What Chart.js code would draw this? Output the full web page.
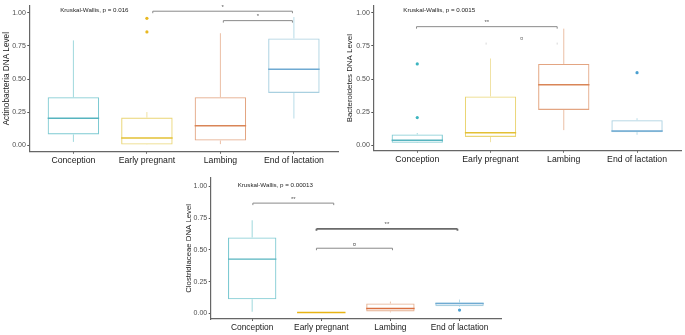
<!DOCTYPE html>
<html><head><meta charset="utf-8">
<script src="https://cdn.jsdelivr.net/npm/chart.js@4.4.1/dist/chart.umd.min.js"></script>
<style>
html,body{margin:0;padding:0;background:#fff;width:685px;height:335px;overflow:hidden;}
canvas{position:absolute;}
</style></head><body>
<canvas id="c1" width="342" height="170" style="left:0;top:0"></canvas>
<canvas id="c2" width="345" height="170" style="left:340px;top:0"></canvas>
<canvas id="c3" width="325" height="163" style="left:180px;top:172px"></canvas>
<script>
// ---------- data ----------
const categories = ['Conception', 'Early pregnant', 'Lambing', 'End of lactation'];
const yTickValues = [0, 0.25, 0.5, 0.75, 1.0];

// Actinobacteria
const actinoMin    = [0.027, 0.005, 0.010, 0.203];
const actinoQ1     = [0.083, 0.007, 0.037, 0.396];
const actinoMedian = [0.205, 0.056, 0.149, 0.575];
const actinoQ3     = [0.364, 0.210, 0.364, 0.807];
const actinoMax    = [0.792, 0.252, 0.846, 0.968];
const actinoOutliers = [[], [0.958, 0.856], [], []];
const actinoTest = 'Kruskal-Wallis, p = 0.016';
const actinoBracketStart = [2.08, 3.04];
const actinoBracketEnd   = [3.98, 3.98];
const actinoBracketY     = [1.012, 0.941];
const actinoBracketLabel = ['*', '*'];

// Bacteroidetes
const bactMin    = [0.018, 0.024, 0.115, 0.080];
const bactQ1     = [0.020, 0.064, 0.267, 0.100];
const bactMedian = [0.039, 0.095, 0.457, 0.108];
const bactQ3     = [0.083, 0.369, 0.614, 0.190];
const bactMax    = [0.093, 0.655, 0.880, 0.205];
const bactOutliers = [[0.614, 0.210], [], [], [0.548]];
const bactTest = 'Kruskal-Wallis, p = 0.0015';
const bactBracketStart = [0.99, 1.94];
const bactBracketEnd   = [2.91, 2.91];
const bactBracketY     = [0.895, 0.775];
const bactBracketLabel = ['**', '¤'];

// Clostridiaceae
const clostMin    = [0.013, 0.004, 0.008, 0.051];
const clostQ1     = [0.111, 0.005, 0.016, 0.057];
const clostMedian = [0.427, 0.007, 0.039, 0.078];
const clostQ3     = [0.598, 0.009, 0.078, 0.086];
const clostMax    = [0.733, 0.010, 0.093, 0.109];
const clostOutliers = [[], [], [], [0.026]];
const clostTest = 'Kruskal-Wallis, p = 0.00013';
const clostBracketStart = [1.01, 1.93, 1.93];
const clostBracketEnd   = [2.18, 3.97, 3.03];
const clostBracketY     = [0.868, 0.666, 0.513];
const clostBracketLabel = ['**', '**', '¤'];

// ---------- styles ----------
const boxColors     = ['#7ECAD2', '#EAD575', '#E3A582', '#A9D0E0'];
const whiskerColors = ['#9FD8DD', '#F0E2A4', '#EBBFA5', '#B9DCE8'];
const medianColors  = ['#56B4BF', '#E3C034', '#D98557', '#6FAAD2'];
const outlierColors = ['#3DB5C0', '#E8B820', '#D98557', '#4A9FD0'];
const FONT = "'Liberation Sans', Arial, sans-serif";

function makeChart(id, s, L) {
  const outPts = [], outCols = [];
  s.outliers.forEach((arr, i) => arr.forEach(v => { outPts.push({x: i + 1, y: v}); outCols.push(outlierColors[i]); }));

  const parts = {
    id: 'boxParts' + id,
    beforeDatasetsDraw(chart) {
      const {ctx, scales: {y}} = chart;
      const meta = chart.getDatasetMeta(0);
      ctx.save();
      ctx.lineWidth = 1;
      s.min.forEach((v, i) => {
        const px = meta.data[i].x;
        ctx.strokeStyle = whiskerColors[i];
        ctx.beginPath();
        ctx.moveTo(px, y.getPixelForValue(s.q3[i])); ctx.lineTo(px, y.getPixelForValue(s.max[i]));
        ctx.moveTo(px, y.getPixelForValue(s.q1[i])); ctx.lineTo(px, y.getPixelForValue(v));
        ctx.stroke();
      });
      ctx.restore();
    },
    afterDatasetsDraw(chart) {
      const {ctx, scales: {x, y}} = chart;
      const meta = chart.getDatasetMeta(0);
      ctx.save();
      // medians
      s.median.forEach((v, i) => {
        const el = meta.data[i];
        const py = y.getPixelForValue(v);
        ctx.strokeStyle = L.medianColors ? L.medianColors[i] : medianColors[i];
        ctx.lineWidth = 1.4;
        ctx.beginPath();
        ctx.moveTo(el.x - el.width / 2, py); ctx.lineTo(el.x + el.width / 2, py);
        ctx.stroke();
      });
      // significance brackets
      s.bStart.forEach((b, i) => {
        const x1 = x.getPixelForValue(b), x2 = x.getPixelForValue(s.bEnd[i]);
        const py = y.getPixelForValue(s.bY[i]);
        const tip = py + 2;
        ctx.lineWidth = L.bracketWidths[i];
        ctx.strokeStyle = L.bracketColors[i];
        ctx.beginPath();
        ctx.moveTo(x1, py); ctx.lineTo(x2, py);
        ctx.stroke();
        ctx.strokeStyle = L.tipColors[i];
        ctx.beginPath();
        ctx.moveTo(x1, tip); ctx.lineTo(x1, py);
        ctx.moveTo(x2, py); ctx.lineTo(x2, tip);
        ctx.stroke();
        ctx.fillStyle = L.bracketLabelColors[i];
        ctx.font = '6px ' + FONT;
        ctx.textAlign = 'center';
        ctx.textBaseline = 'middle';
        ctx.fillText(s.bLabel[i], (x1 + x2) / 2, py - 4);
      });
      // test text
      ctx.fillStyle = '#222';
      ctx.font = '6.2px ' + FONT;
      ctx.textAlign = 'left';
      ctx.textBaseline = 'middle';
      ctx.fillText(s.test, x.getPixelForValue(L.testX), y.getPixelForValue(L.testY));
      ctx.restore();
    }
  };

  const gridOpts = {display: true, drawOnChartArea: false, drawTicks: true, tickLength: 2, color: '#555', offset: false};
  return new Chart(document.getElementById(id), {
    type: 'bar',
    data: {
      datasets: [
        {
          type: 'bar',
          data: categories.map((c, i) => ({x: i + 1, y: [s.q1[i], s.q3[i]]})),
          backgroundColor: 'rgba(0,0,0,0)',
          borderColor: L.boxColors || boxColors,
          borderWidth: 1.1,
          borderSkipped: false,
          categoryPercentage: 1,
          barPercentage: 0.7
        },
        {
          type: 'scatter',
          data: outPts,
          pointBackgroundColor: outCols,
          pointBorderWidth: 0,
          pointRadius: 1.6
        }
      ]
    },
    options: {
      responsive: false,
      animation: false,
      layout: {padding: {top: L.padTop, right: L.padRight, left: 0, bottom: 0}},
      plugins: {legend: {display: false}, tooltip: {enabled: false}},
      scales: {
        x: {
          type: 'linear', min: 0.4, max: 4.6, offset: false,
          grid: gridOpts,
          border: {display: true, color: '#666', width: 1.2},
          afterBuildTicks: sc => { sc.ticks = categories.map((c, i) => ({value: i + 1})); },
          ticks: {
            callback: v => categories[Math.round(v) - 1],
            font: {family: FONT, size: L.catSize}, color: '#1a1a1a',
            padding: 1.5, autoSkip: false, maxRotation: 0, minRotation: 0
          },
          afterFit: sc => { sc.height = L.xHeight; }
        },
        y: {
          type: 'linear', min: L.yMin, max: L.yMax,
          grid: gridOpts,
          border: {display: true, color: '#666', width: 1.2},
          afterBuildTicks: sc => { sc.ticks = yTickValues.map(v => ({value: v})); },
          ticks: {
            callback: v => Number(v).toFixed(2),
            font: {family: FONT, size: 7}, color: '#4d4d4d', padding: 1.5
          },
          title: {
            display: true, text: L.title, color: '#1a1a1a',
            font: {family: FONT, size: L.titleSize},
            padding: {top: L.titlePad, bottom: 0}
          },
          afterFit: sc => { sc.width = L.yWidth; }
        }
      }
    },
    plugins: [parts]
  });
}

makeChart('c1', {
  min: actinoMin, q1: actinoQ1, median: actinoMedian, q3: actinoQ3, max: actinoMax,
  outliers: actinoOutliers, test: actinoTest,
  bStart: actinoBracketStart, bEnd: actinoBracketEnd, bY: actinoBracketY, bLabel: actinoBracketLabel
}, {
  yWidth: 29.3, xHeight: 18.3, padTop: 1.7, padRight: 1, yMin: -0.047, yMax: 1.0535,
  title: 'Actinobacteria DNA Level', titleSize: 8.2, titlePad: 1.8, catSize: 8.7,
  testX: 0.82, testY: 1.017,
  bracketColors: ['#8a8a8a', '#8a8a8a'], tipColors: ['#8a8a8a', '#8a8a8a'],
  bracketWidths: [1, 1], bracketLabelColors: ['#555', '#555']
});

makeChart('c2', {
  min: bactMin, q1: bactQ1, median: bactMedian, q3: bactQ3, max: bactMax,
  outliers: bactOutliers, test: bactTest,
  bStart: bactBracketStart, bEnd: bactBracketEnd, bY: bactBracketY, bLabel: bactBracketLabel
}, {
  yWidth: 33.3, xHeight: 19.3, padTop: 1.7, padRight: 3, yMin: -0.04, yMax: 1.053,
  title: 'Bacteroidetes DNA Level', titleSize: 7.9, titlePad: 5, catSize: 8.7,
  testX: 0.81, testY: 1.017,
  bracketColors: ['#8a8a8a', 'rgba(0,0,0,0)'], tipColors: ['#8a8a8a', '#d8d8d8'],
  bracketWidths: [1, 1], bracketLabelColors: ['#555', '#777']
});

makeChart('c3', {
  min: clostMin, q1: clostQ1, median: clostMedian, q3: clostQ3, max: clostMax,
  outliers: clostOutliers, test: clostTest,
  bStart: clostBracketStart, bEnd: clostBracketEnd, bY: clostBracketY, bLabel: clostBracketLabel
}, {
  yWidth: 30.7, xHeight: 16, padTop: 4, padRight: 2, yMin: -0.044, yMax: 1.068,
  title: 'Clostridiaceae DNA Level', titleSize: 7.8, titlePad: 4.6, catSize: 8.4,
  testX: 0.79, testY: 1.011,
  boxColors: ['#7ECAD2', '#E8B414', '#E6B090', '#A9D0E0'],
  medianColors: ['#56B4BF', '#E8B414', '#D97040', '#6FAAD2'],
  bracketColors: ['#8a8a8a', '#6a6a6a', '#8a8a8a'], tipColors: ['#8a8a8a', '#6a6a6a', '#8a8a8a'],
  bracketWidths: [1, 1.8, 1], bracketLabelColors: ['#555', '#555', '#555']
});
</script>
</body></html>
